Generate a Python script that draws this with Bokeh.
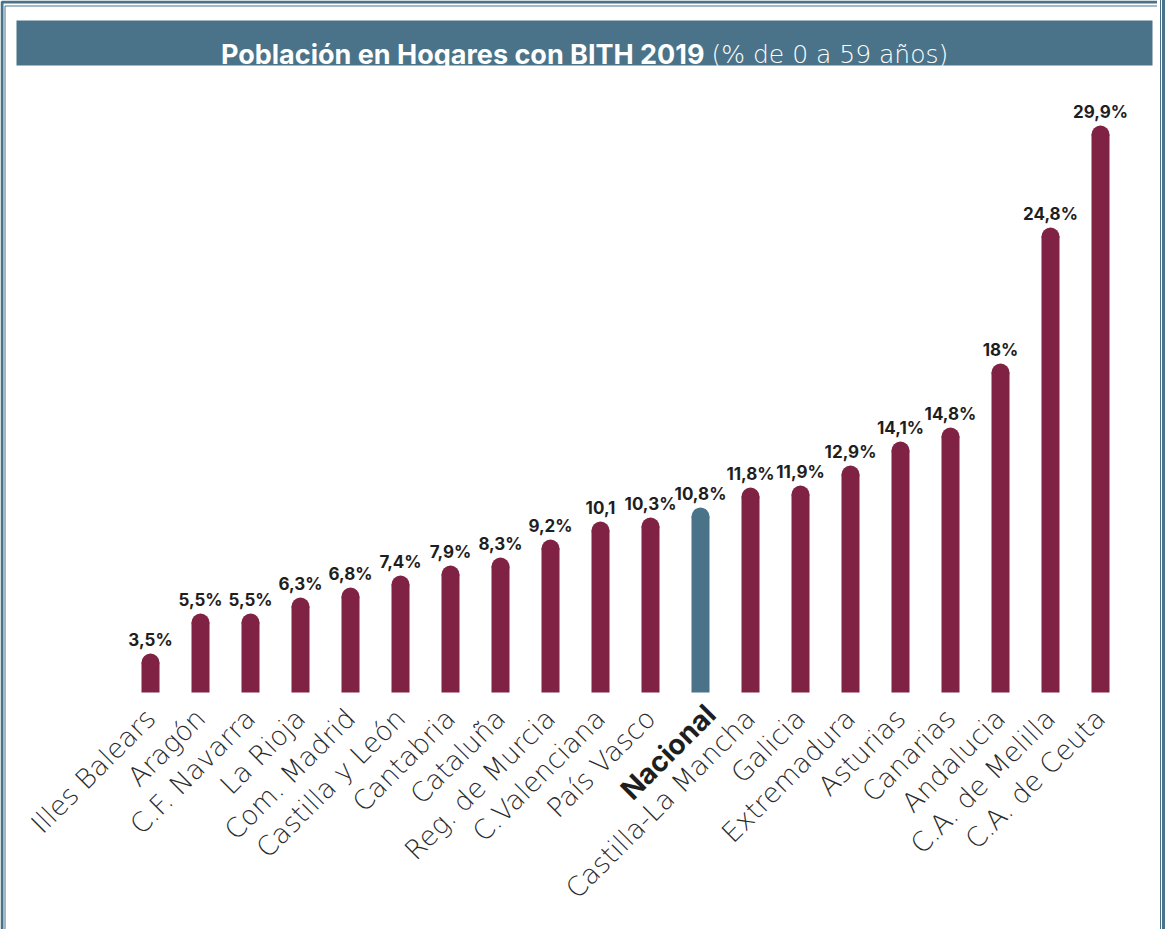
import math
from bokeh.plotting import figure
from bokeh.models import Range1d, FixedTicker, LabelSet, Label, BoxAnnotation, ColumnDataSource
from bokeh.core.properties import value
from bokeh.embed import file_html
from bokeh.resources import INLINE

# ---- data ----
regions = ["Illes Balears", "Aragón", "C.F. Navarra", "La Rioja", "Com. Madrid",
           "Castilla y León", "Cantabria", "Cataluña", "Reg. de Murcia", "C.Valenciana",
           "País Vasco", "Nacional", "Castilla-La Mancha", "Galicia", "Extremadura",
           "Asturias", "Canarias", "Andalucia", "C.A. de Melilla", "C.A. de Ceuta"]
values = [3.5, 5.5, 5.5, 6.3, 6.8, 7.4, 7.9, 8.3, 9.2, 10.1,
          10.3, 10.8, 11.8, 11.9, 12.9, 14.1, 14.8, 18.0, 24.8, 29.9]
value_labels = ["3,5%", "5,5%", "5,5%", "6,3%", "6,8%", "7,4%", "7,9%", "8,3%", "9,2%", "10,1",
                "10,3%", "10,8%", "11,8%", "11,9%", "12,9%", "14,1%", "14,8%", "18%", "24,8%", "29,9%"]
highlight = "Nacional"
title_bold = "Población en Hogares con BITH 2019"
title_light = "(% de 0 a 59 años)"
baseline = 2.0  # value at which the bars of the original graphic start

MAROON = "#7f2244"
TEAL = "#4a7389"
LIGHT_FONT = "DejaVu Sans ExtraLight, DejaVu Sans Light, Lato"

# ---- layout constants (canvas pixels) ----
W, H = 1157, 929
PX_X, PX_Y = 50.0, 20.0        # pixels per category / per percentage point
FIRST_BAR_PX = 150.0           # canvas x of first bar
BASE_PX = 692.0                # canvas y of the bars' base line
x0 = -FIRST_BAR_PX / PX_X
x1 = x0 + W / PX_X
y1 = baseline + BASE_PX / PX_Y
y0 = y1 - H / PX_Y


def dx(px):
    return x0 + px / PX_X


def dy(py):
    return y1 - py / PX_Y


xs = list(range(len(regions)))
colors = [TEAL if r == highlight else MAROON for r in regions]
src = ColumnDataSource(dict(x=xs, v=values, lbl=value_labels, color=colors,
                            base=[baseline] * len(xs)))

p = figure(width=W, height=H, output_backend="svg", toolbar_location=None,
           x_range=Range1d(x0, x1), y_range=Range1d(y0, y1),
           min_border=0, min_border_left=0, min_border_right=0,
           min_border_top=0, min_border_bottom=0, title=None)
# right-hand double line and left extension of the frame, outside the canvas
p.styles = {"box-shadow": f"3px 0 0 0 white, 4px 0 0 0 {TEAL}, 5px 0 0 0 white, "
                          f"8px 0 0 0 {TEAL}, -2px 0 0 0 {TEAL}"}
p.outline_line_color = None
p.background_fill_color = "white"
p.border_fill_color = "white"
p.grid.visible = False
p.yaxis.visible = False

# frame lines (outer thick, inner thin) on the left and top
p.add_layout(BoxAnnotation(left=dx(1.5), right=dx(W + 20), top=dy(1.5), bottom=y0 - 5,
                           fill_alpha=0, line_color=TEAL, line_alpha=1.0, line_width=3))
p.add_layout(BoxAnnotation(left=dx(4.5), right=dx(W + 20), top=dy(5.5), bottom=y0 - 5,
                           fill_alpha=0, line_color=TEAL, line_alpha=1.0, line_width=1))

# title bar
p.add_layout(BoxAnnotation(left=dx(16), right=dx(1152), top=dy(20), bottom=dy(65),
                           fill_color=TEAL, fill_alpha=1.0, line_color=None))
p.add_layout(Label(x=dx(704), y=dy(54), text=title_bold, text_align="right",
                   text_baseline="alphabetic", text_font="Inter", text_font_style="bold",
                   text_font_size="27px", text_color="white"))
p.add_layout(Label(x=dx(711), y=dy(54), text=title_light, text_align="left",
                   text_baseline="alphabetic", text_font=LIGHT_FONT, text_font_size="25px",
                   text_color="white"))

# rounded bars
p.vbar(x="x", bottom="base", top="v", width=18 / PX_X, fill_color="color", line_color=None,
       source=src)
p.scatter(x="x", y="v", size=18, marker="circle", fill_color="color", line_color=None,
          source=src)

p.add_layout(LabelSet(x="x", y="v", text="lbl", source=src, y_offset=17,
                      text_align="center", text_baseline="alphabetic",
                      text_font=value("Inter"), text_font_style="bold",
                      text_font_size="17px", text_color="#1e1e1e"))

# x axis (fixed at the bars' base line)
ax = p.xaxis[0]
ax.fixed_location = baseline
ax.ticker = FixedTicker(ticks=xs)
ax.major_label_overrides = {i: ("" if r == highlight else r) for i, r in enumerate(regions)}
ax.major_label_orientation = math.pi / 4
ax.major_label_text_font = LIGHT_FONT
ax.major_label_text_font_size = "27px"
ax.major_label_text_color = "#2a2a2a"
ax.major_label_standoff = 15
ax.axis_line_color = None
ax.major_tick_line_color = None
ax.minor_tick_line_color = None

p.add_layout(Label(x=xs[regions.index(highlight)] + 0.2, y=dy(BASE_PX + 17),
                   text=highlight, angle=math.pi / 4,
                   text_align="right", text_baseline="middle",
                   text_font="Inter", text_font_style="bold",
                   text_font_size="28px", text_color="#1e1e1e"))

open("out.html", "w").write(file_html(p, INLINE))
